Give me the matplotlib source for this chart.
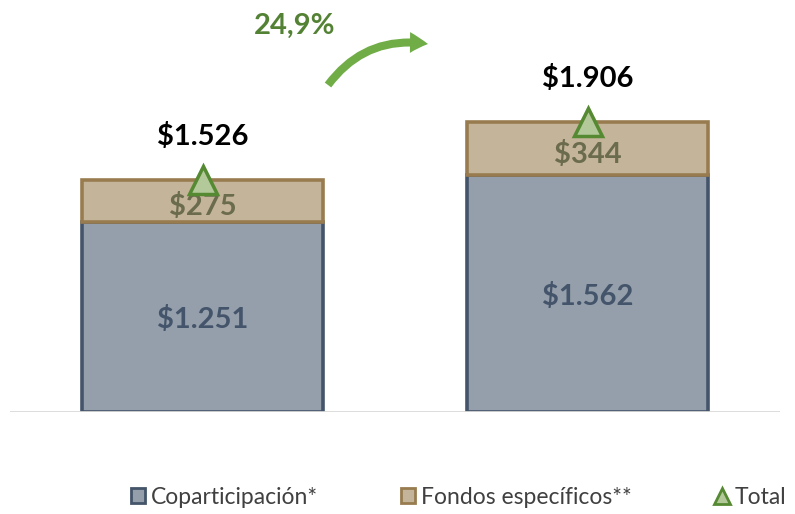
import matplotlib
matplotlib.use("Agg")
import matplotlib.pyplot as plt
from matplotlib.patches import FancyArrowPatch
from matplotlib.lines import Line2D
from matplotlib.patches import Patch

categories = ["Periodo 1", "Periodo 2"]
coparticipacion = [1251, 1562]
fondos = [275, 344]
totals = [1526, 1906]
copart_labels = ["$1.251", "$1.562"]
fondos_labels = ["$275", "$344"]
total_labels = ["$1.526", "$1.906"]
growth_label = "24,9%"
legend_labels = ["Coparticipación*", "Fondos específicos**", "Total"]

FONT = ["Lato", "DejaVu Sans"]
plt.rcParams['font.family'] = FONT

W, H = 795, 514
fig = plt.figure(figsize=(W / 100, H / 100), dpi=100)
ax = fig.add_axes([10 / W, (H - 412) / H, 770 / W, 412 / H])
ax.set_xlim(-0.5, 1.5)
ax.set_ylim(0, 2710)
ax.axis("off")

x = list(range(len(categories)))
bw = 0.624
ax.bar(x, coparticipacion, width=bw, color="#959fab", edgecolor="#44546a", linewidth=2.6, zorder=2)
ax.bar(x, fondos, bottom=coparticipacion, width=bw, color="#c4b59a", edgecolor="#987c4f", linewidth=2.6, zorder=2)
ax.axhline(0, color="#d9d9d9", linewidth=2, zorder=3)

ax.plot(x, totals, linestyle="none", marker="^", markersize=20, markerfacecolor="#b3c99a",
        markeredgecolor="#558a33", markeredgewidth=2.5, zorder=5)

for i in x:
    ax.text(i, coparticipacion[i] / 2 - 20, copart_labels[i], ha="center", va="center",
            fontsize=21, fontweight="bold", color="#44546a", zorder=6)
    ax.text(i, coparticipacion[i] + fondos[i] / 2 - 40, fondos_labels[i], ha="center", va="center",
            fontsize=21, fontweight="bold", color="#6b6b4e", zorder=4)
    ax.text(i, totals[i] + 285, total_labels[i], ha="center", va="center",
            fontsize=21, fontweight="bold", color="#000000", zorder=6)

# growth arrow
arrow = FancyArrowPatch((328 / W, 1 - 85 / H), (428 / W, 1 - 44 / H), transform=fig.transFigure,
                        connectionstyle="arc3,rad=-0.3",
                        arrowstyle="simple,tail_width=0.29,head_width=0.75,head_length=0.65",
                        mutation_scale=20, color="#70ad47", lw=0, shrinkA=0, shrinkB=0)
fig.patches.append(arrow)
fig.text(295 / W, 1 - 26 / H, growth_label, ha="center", va="center", fontsize=21,
         fontweight="bold", color="#548235")

handles = [
    Patch(facecolor="#959fab", edgecolor="#44546a", linewidth=2),
    Patch(facecolor="#c4b59a", edgecolor="#987c4f", linewidth=2),
    Line2D([], [], linestyle="none", marker="^", markersize=12, markerfacecolor="#b3c99a",
           markeredgecolor="#558a33", markeredgewidth=2),
]
leg = fig.legend(handles, legend_labels, loc="center left", bbox_to_anchor=(131 / W, 1 - 497 / H),
                 ncol=3, frameon=False, fontsize=16.5, handlelength=0.6, handleheight=0.6,
                 handletextpad=0.25, columnspacing=3.65, borderaxespad=0, borderpad=0)
for t in leg.get_texts():
    t.set_color("#404040")

fig.savefig("out.png", dpi=100)
